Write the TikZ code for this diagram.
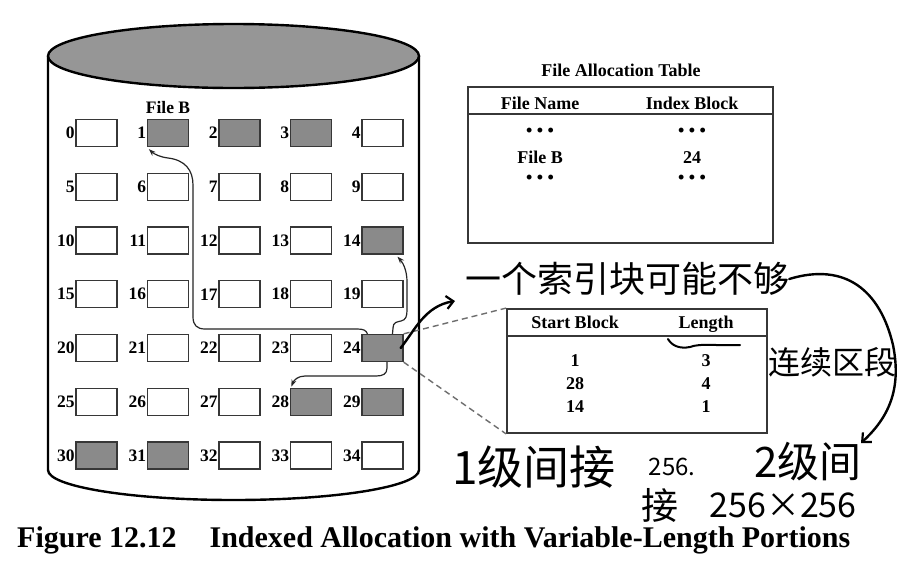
\documentclass[tikz,border=0pt]{standalone}
\usepackage{fontspec}
\setmainfont{Liberation Serif}
\newfontfamily\cjk{Noto Sans CJK SC}
\usetikzlibrary{arrows.meta}
\definecolor{fillgray}{RGB}{138,138,138}
\definecolor{topgray}{RGB}{150,150,150}
\definecolor{edgegray}{RGB}{55,55,55}
\definecolor{dashgray}{RGB}{110,110,110}
\begin{document}
\begin{tikzpicture}[x=1pt,y=-1pt,
  blk/.style={draw=edgegray, line width=1.3pt, minimum width=41pt, minimum height=27pt, inner sep=0pt, fill=white},
  full/.style={blk, fill=fillgray},
  lbl/.style={font=\fontsize{17.5}{17.5}\selectfont\bfseries, inner sep=0.6pt, anchor=east},
  txt/.style={font=\fontsize{18}{18}\selectfont\bfseries, inner sep=0pt, anchor=base},
  tbl/.style={draw=edgegray, line width=1.8pt, inner sep=0pt},
  link/.style={draw=black!85, line width=1.2pt, -{Stealth[length=7pt,width=5pt]}},
  dashline/.style={draw=dashgray, line width=1.4pt, dash pattern=on 6pt off 4pt},
  hand/.style={draw=black, line width=2.4pt, line cap=round, line join=round},
  handtip/.style={hand, -{Straight Barb[length=7pt,width=13pt,line width=2.2pt]}},
  hw/.style={font=\cjk, inner sep=0pt}
]
\useasboundingbox (0,0) rectangle (909,563);
\fill[white] (0,0) rectangle (909,563);

% disk cylinder
\draw[line width=2.4pt] (48,56) -- (48,470)
  .. controls (48,486.6) and (131.1,500) .. (233.5,500)
  .. controls (335.9,500) and (419,486.6) .. (419,470) -- (419,56);
\draw[line width=2.4pt, fill=topgray] (233.5,56) ellipse [x radius=185.5, y radius=32];

% blocks
\foreach \i/\s in {0/blk,1/full,2/full,3/full,4/blk,
                   5/blk,6/blk,7/blk,8/blk,9/blk,
                   10/blk,11/blk,12/blk,13/blk,14/full,
                   15/blk,16/blk,17/blk,18/blk,19/blk,
                   20/blk,21/blk,22/blk,23/blk,24/full,
                   25/blk,26/blk,27/blk,28/full,29/full,
                   30/full,31/full,32/blk,33/blk,34/blk}{
  \pgfmathtruncatemacro\c{mod(\i,5)}
  \pgfmathtruncatemacro\r{div(\i,5)}
  \node[\s] (b\i) at ({96.5+71.5*\c},{133+53.75*\r}) {};
  \node[lbl] (l\i) at (b\i.west) {\i};
}
\node[txt, font=\fontsize{17.5}{17.5}\selectfont\bfseries] (fileb) at (168,113.5) {File B};

% pointers from index block 24
\draw[link] ([xshift=10pt]b24.north) -- (393,328)
  .. controls (393,322) and (397,322) .. (401,321)
  .. controls (406,320) and (407,316) .. (407,310) -- (407,282)
  .. controls (407,272) and (404,264) .. ([xshift=15pt,yshift=-2pt]b14.south);
\draw[link] ([xshift=-15pt]b24.north)
  .. controls (366,330) and (363,329) .. (357,329) -- (205,329)
  .. controls (197,329) and (193,325) .. (193,317) -- (193,185)
  .. controls (193,170) and (185,160) .. (168,158)
  .. controls (160,157) and (154,154) .. ([xshift=2pt,yshift=-2pt]b1.south west);
\draw[link] ([xshift=4.5pt]b24.south) -- (387,368)
  .. controls (387,374) and (383,376) .. (376,376) -- (305,376)
  .. controls (298,376) and (294,380) .. ([xshift=1.5pt,yshift=1pt]b28.north west);

% file allocation table
\node[txt] (fattitle) at (621,76) {File Allocation Table};
\node[tbl, minimum width=305pt, minimum height=156pt] (fat) at (620.5,165) {};
\draw[edgegray, line width=1.8pt] (fat.west |- 0,114) -- (fat.east |- 0,114);
\node[txt] (fn) at (540,109) {File Name};
\node[txt] (ib) at (692,109) {Index Block};
\node[txt] (d1) at (540,136.5) {• • •};
\node[txt] (d2) at (692,136.5) {• • •};
\node[txt] (fb) at (540,163) {File B};
\node[txt] (n24) at (692,163) {24};
\node[txt] (d3) at (540,183.5) {• • •};
\node[txt] (d4) at (692,183.5) {• • •};

% index block table
\node[tbl, minimum width=260pt, minimum height=124pt] (idx) at (637,371) {};
\draw[edgegray, line width=1.8pt] (idx.west |- 0,336) -- (idx.east |- 0,336);
\node[txt] (sb) at (575,328) {Start Block};
\node[txt] (ln) at (706,328) {Length};
\node[txt] (s1) at (575,366) {1};
\node[txt] (s2) at (575,389) {28};
\node[txt] (s3) at (575,412) {14};
\node[txt] (e1) at (706,366) {3};
\node[txt] (e2) at (706,389) {4};
\node[txt] (e3) at (706,412) {1};
\draw[dashline] (b24.north east) -- (idx.north west);
\draw[dashline] (b24.south east) -- (idx.south west);

% caption
\node[anchor=base west, inner sep=0pt, font=\fontsize{30}{30}\selectfont\bfseries] (cap) at (17,547)
  {Figure 12.12\hspace{1.1em}Indexed Allocation with Variable-Length Portions};

% handwritten notes
\node[hw, font=\cjk\fontsize{36}{36}\selectfont] (t1) at (627,279) {一个索引块可能不够};
\node[hw, font=\cjk\fontsize{32}{32}\selectfont] (t2) at (832,362) {连续区段};
\node[hw, font=\cjk\fontsize{46}{46}\selectfont] (t3) at (534,467) {1级间接};
\node[hw, font=\cjk\fontsize{24}{24}\selectfont] (t4) at (672,467) {256.};
\node[hw, font=\cjk\fontsize{42}{42}\selectfont] (t5) at (808,462) {2级间};
\node[hw, font=\cjk\fontsize{37}{37}\selectfont] (t6) at (660,505) {接};
\node[hw, font=\cjk\fontsize{34}{34}\selectfont] (t7) at (783,505) {256×256};
\coordinate (h1) at (455,301);
\coordinate (h2) at (861,443);
\draw[handtip] ([xshift=-3pt]b24.east) .. controls (415,330) and (425,306) .. (h1);
\draw[handtip] (t1.east) .. controls (845,262) and (880,290) .. (893,345)
  .. controls (902,390) and (888,418) .. (h2);
\draw[hand, line width=2pt] (668,339) .. controls (672,346) and (680,349) .. (690,347)
  .. controls (700,343) and (718,346) .. (740,345);
\end{tikzpicture}
\end{document}
